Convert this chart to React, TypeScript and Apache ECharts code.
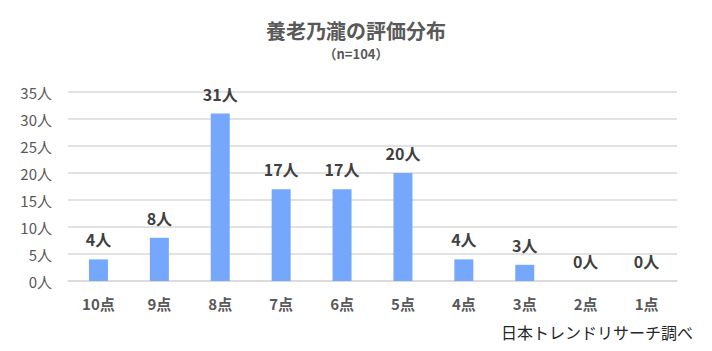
import React, { useEffect, useRef } from "react";
import * as echarts from "echarts";

const categories = ["10点", "9点", "8点", "7点", "6点", "5点", "4点", "3点", "2点", "1点"];
const counts = [4, 8, 31, 17, 17, 20, 4, 3, 0, 0];
const titleText = "養老乃瀧の評価分布";
const subtitleText = "（n=104）";
const sourceText = "日本トレンドリサーチ調べ";

export default function App() {
  const ref = useRef<HTMLDivElement>(null);
  useEffect(() => {
    document.body.style.margin = "0";
    if (!ref.current) return;
    const chart = echarts.init(ref.current, null, { renderer: "svg" });
    const font = "'Noto Sans CJK JP', 'Noto Sans', sans-serif";
    chart.setOption({
      animation: false,
      backgroundColor: "#ffffff",
      textStyle: { fontFamily: font },
      title: [
        {
          text: titleText,
          left: "center",
          top: 15,
          textStyle: { fontSize: 20, fontWeight: "bold", color: "#595959", fontFamily: font },
        },
        {
          text: subtitleText,
          left: "center",
          top: 42,
          textStyle: { fontSize: 13, fontWeight: "bold", color: "#595959", fontFamily: font },
        },
        {
          text: sourceText,
          right: 14,
          top: 319,
          textStyle: { fontSize: 16, fontWeight: "normal", color: "#262626", fontFamily: font },
        },
      ],
      grid: { left: 68, right: 35, top: 92, bottom: 70, containLabel: false },
      xAxis: {
        type: "category",
        data: categories,
        axisLine: { show: true, lineStyle: { color: "#d9d9d9", width: 1.5 } },
        axisTick: { show: false },
        axisLabel: { color: "#595959", fontSize: 15, fontWeight: "bold", margin: 15, fontFamily: font },
      },
      yAxis: {
        type: "value",
        min: 0,
        max: 35,
        interval: 5,
        axisLine: { show: false },
        axisTick: { show: false },
        axisLabel: { formatter: "{value}人", color: "#595959", fontSize: 15, margin: 16, fontFamily: font },
        splitLine: { lineStyle: { color: "#d9d9d9", width: 1.5 } },
      },
      series: [
        {
          type: "bar",
          data: counts,
          barWidth: 19,
          itemStyle: { color: "#75a8fc" },
          label: {
            show: true,
            position: "top",
            distance: 12,
            formatter: "{c}人",
            color: "#404040",
            fontSize: 16,
            fontWeight: "bold",
            fontFamily: font,
          },
        },
      ],
    });
    return () => chart.dispose();
  }, []);
  return <div ref={ref} style={{ width: 712, height: 351 }} />;
}
